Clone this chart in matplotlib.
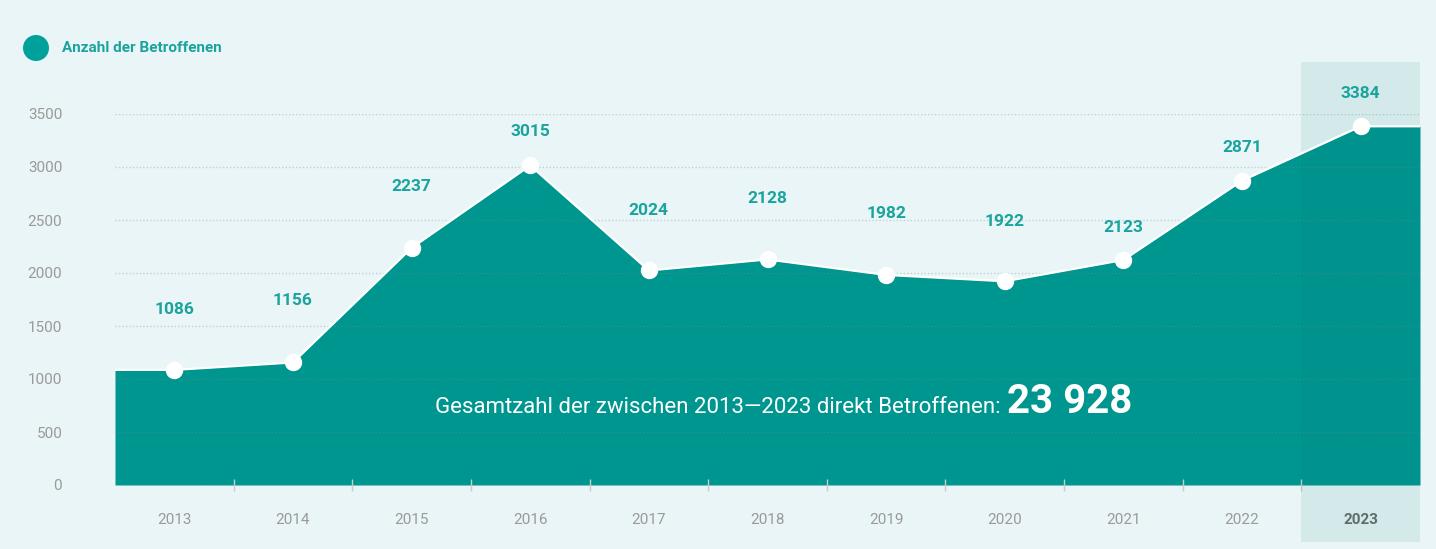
import matplotlib.pyplot as plt
from matplotlib.patches import Circle
from matplotlib.ticker import FixedLocator

plt.rcParams["font.family"] = ["Roboto", "DejaVu Sans"]

years = ["2013", "2014", "2015", "2016", "2017", "2018", "2019", "2020", "2021", "2022", "2023"]
affected = [1086, 1156, 2237, 3015, 2024, 2128, 1982, 1922, 2123, 2871, 3384]
y_ticks = [0, 500, 1000, 1500, 2000, 2500, 3000, 3500]
legend_label = "Anzahl der Betroffenen"
total_label = "Gesamtzahl der zwischen 2013\u20142023 direkt Betroffenen:"
total_value = "23 928"

BG = "#e9f5f6"
TEAL = "#009690"
LABEL_TEAL = "#1ba39e"
GREY = "#9a9a9a"

fig = plt.figure(figsize=(14.36, 5.49), dpi=100, facecolor=BG)
W, H = 1436, 549
ax = fig.add_axes([115 / W, 64 / H, 1305 / W, 371 / H])
ax.set_facecolor(BG)

n = len(years)
x = list(range(n))
ax.set_xlim(-0.5, n - 0.5)
ax.set_ylim(0, 3500)

# area, flat ends out to the axis edges
xs = [-0.5] + x + [n - 0.5]
ys = [affected[0]] + affected + [affected[-1]]
ax.fill_between(xs, 0, ys, color=TEAL, lw=0, zorder=1)
ax.plot(xs, ys, color="white", lw=1.6, zorder=4)
ax.plot(x, affected, ls="none", marker="o", ms=11.5, mfc="white", mec="white", zorder=5)

# grid
for t in y_ticks:
    ax.axhline(t, color="#7f8c8c", alpha=0.35, lw=1, ls=(0, (1, 1.5)), zorder=2)

# highlighted last year
ax.axvspan(n - 1.5, n - 0.5, ymin=-0.154, ymax=1.14, color="#008080", alpha=0.095,
           lw=0, zorder=3, clip_on=False)

# value labels (pixel lift above dot)
lift = [60, 62, 61, 34, 60, 61, 61, 60, 32, 33, 33]
for xi, v, l in zip(x, affected, lift):
    ax.annotate(str(v), (xi, v), xytext=(0, l * 0.72), textcoords="offset points",
                ha="center", va="center", fontsize=12.5, fontweight="bold",
                color=LABEL_TEAL, zorder=6)

# total annotation
base_y = (485 - 413) / 371
ax.text((1001 - 115) / 1305, base_y, total_label, transform=ax.transAxes,
        ha="right", va="baseline", fontsize=16, color="white", zorder=6)
ax.text((1007 - 115) / 1305, base_y, total_value, transform=ax.transAxes,
        ha="left", va="baseline", fontsize=29, fontweight="bold", color="white", zorder=6)

for s in ax.spines.values():
    s.set_visible(False)

ax.set_yticks(y_ticks)
ax.tick_params(axis="y", length=0, pad=38, labelsize=11, labelcolor=GREY)
ax.set_xticks(x)
ax.set_xticklabels(years)
ax.tick_params(axis="x", which="major", length=0, pad=20, labelsize=11, labelcolor=GREY)
ax.xaxis.set_minor_locator(FixedLocator([i + 0.5 for i in x[:-1]]))
ax.tick_params(axis="x", which="minor", direction="inout", length=8, width=1, color="#c8cccc")
last = ax.get_xticklabels()[-1]
last.set_fontweight("bold")
last.set_color("#6b6b6b")

# legend
fig.add_artist(Circle((36 / 100, (H - 48) / 100), 0.13, transform=fig.dpi_scale_trans,
                      color="#00a19a", lw=0))
fig.text(62 / W, 1 - 48 / H, legend_label, ha="left", va="center", fontsize=11,
         fontweight="bold", color=LABEL_TEAL)

fig.savefig("out.png", dpi=100, facecolor=BG)
